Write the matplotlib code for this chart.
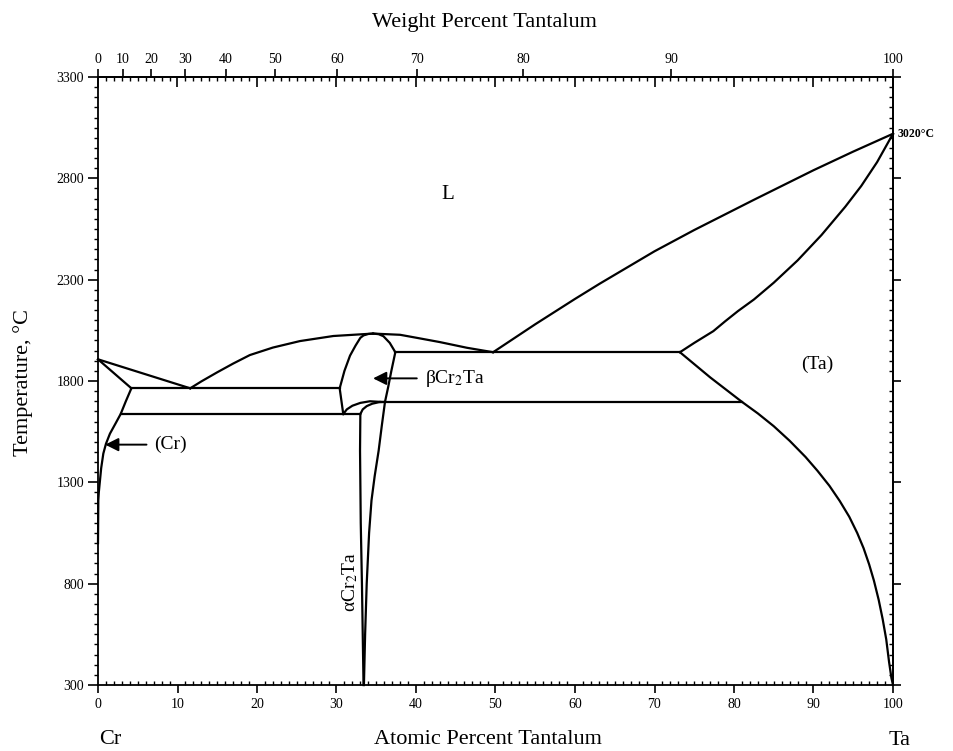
import matplotlib
matplotlib.use('Agg')
import matplotlib.pyplot as plt
import numpy as np
from matplotlib.ticker import MultipleLocator

plt.rcParams['font.family'] = ['Liberation Serif', 'DejaVu Serif']
plt.rcParams['mathtext.fontset'] = 'stix'

# atomic masses, used for the weight percent scale on top
M_CR = 52.00
M_TA = 180.95

# ---- phase boundaries (at.% Ta, deg C) ----
# (Cr) side
liq_cr_x = [0, 11.6]
liq_cr_t = [1907, 1764]
sol_cr_x = [0, 4.2]
sol_cr_t = [1907, 1764]
solv_cr_x = [4.2, 3.5, 2.85, 2.2, 1.5, 1.0, 0.67, 0.4, 0.25, 0.1, 0.04, 0.0]
solv_cr_t = [1764, 1700, 1637, 1590, 1540, 1490, 1442, 1370, 1310, 1250, 1212, 1000]

# Cr2Ta liquidus dome
dome_x = [11.6, 13, 15, 17, 19.1, 22, 25.4, 29.6, 34.6, 38, 40.1, 43, 46.4, 49.7]
dome_t = [1764, 1798, 1843, 1886, 1928, 1965, 1997, 2022, 2034, 2028, 2013, 1992, 1964, 1942]

# beta Cr2Ta field
beta_left_x = [30.85, 30.4, 31.0, 31.7, 32.4, 33.0, 33.4, 34.0, 34.6]
beta_left_t = [1637, 1764, 1850, 1925, 1975, 2013, 2025, 2032, 2034]
beta_right_x = [34.6, 35.3, 35.9, 36.7, 37.4]
beta_right_t = [2034, 2031, 2021, 1988, 1942]
beta_low_x = [30.85, 31.3, 32.0, 33.0, 34.2, 35.5]
beta_low_t = [1637, 1660, 1678, 1692, 1700, 1697]

# alpha Cr2Ta field
alpha_top_x = [33.0, 33.3, 33.8, 34.5, 35.4, 36.1]
alpha_top_t = [1637, 1660, 1676, 1688, 1696, 1697]
alpha_left_x = [33.0, 32.96, 33.05, 33.2, 33.3, 33.4]
alpha_left_t = [1637, 1456, 1100, 800, 550, 300]
cr2ta_right_x = [37.4, 36.9, 36.5, 36.1, 35.7, 35.3, 34.8, 34.4, 34.1, 33.8, 33.6, 33.45]
cr2ta_right_t = [1942, 1850, 1770, 1697, 1580, 1456, 1330, 1210, 1050, 800, 550, 300]

# (Ta) side
liq_ta_x = [49.7, 55, 60, 63.1, 70, 75, 82.5, 90, 95, 100]
liq_ta_t = [1942, 2080, 2205, 2280, 2440, 2545, 2694, 2840, 2932, 3020]
sol_ta_x = [73.2, 75, 77.4, 78.9, 80.5, 82.5, 85, 88, 91, 94, 96, 98, 100]
sol_ta_t = [1942, 1988, 2046, 2095, 2145, 2202, 2285, 2395, 2520, 2660, 2762, 2880, 3020]
solv_ta_x = [73.2, 77, 81, 83, 85, 87, 89, 90.5, 92, 93.3, 94.5, 95.5, 96.3, 97.0,
             97.6, 98.2, 98.7, 99.15, 99.5, 99.8, 100]
solv_ta_t = [1942, 1818, 1697, 1640, 1577, 1505, 1425, 1357, 1283, 1208, 1130, 1050,
             975, 895, 815, 720, 625, 525, 415, 335, 300]

# invariant lines: (x start, x end, T)
iso_lines = [(4.2, 30.4, 1764),
             (2.85, 33.0, 1637),
             (37.4, 73.2, 1942),
             (35.5, 81.0, 1697)]

wt_ticks = [0, 10, 20, 30, 40, 50, 60, 70, 80, 90, 100]
at_ticks = [0, 10, 20, 30, 40, 50, 60, 70, 80, 90, 100]
t_ticks = [300, 800, 1300, 1800, 2300, 2800, 3300]


def at_to_wt(a):
    a = np.asarray(a, dtype=float)
    with np.errstate(divide='ignore', invalid='ignore'):
        return 100.0 * a * M_TA / (a * M_TA + (100.0 - a) * M_CR)


def wt_to_at(w):
    w = np.asarray(w, dtype=float)
    with np.errstate(divide='ignore', invalid='ignore'):
        return 100.0 * (w / M_TA) / (w / M_TA + (100.0 - w) / M_CR)


fig = plt.figure(figsize=(9.54, 7.51), dpi=100)
ax = fig.add_axes([98 / 954, 66 / 751, 795 / 954, 608 / 751])

lw = 1.6
curves = [(liq_cr_x, liq_cr_t), (sol_cr_x, sol_cr_t), (solv_cr_x, solv_cr_t),
          (dome_x, dome_t), (beta_left_x, beta_left_t), (beta_right_x, beta_right_t),
          (beta_low_x, beta_low_t), (alpha_top_x, alpha_top_t),
          (alpha_left_x, alpha_left_t), (cr2ta_right_x, cr2ta_right_t),
          (liq_ta_x, liq_ta_t), (sol_ta_x, sol_ta_t), (solv_ta_x, solv_ta_t)]
for cx, ct in curves:
    ax.plot(cx, ct, color='k', lw=lw, solid_joinstyle='round', clip_on=False)
for x0, x1, t in iso_lines:
    ax.plot([x0, x1], [t, t], color='k', lw=lw)

ax.set_xlim(0, 100)
ax.set_ylim(300, 3300)
for s in ax.spines.values():
    s.set_linewidth(1.3)

ax.set_xticks(at_ticks)
ax.xaxis.set_minor_locator(MultipleLocator(1))
ax.set_yticks(t_ticks)
ax.yaxis.set_minor_locator(MultipleLocator(50))
ax.tick_params(axis='x', which='major', direction='out', length=6, width=1.2,
               labelsize=10, pad=3)
ax.tick_params(axis='x', which='minor', direction='in', length=3, width=1.0)
ax.tick_params(axis='y', which='major', direction='out', length=7, width=1.2,
               labelsize=10, pad=3)
ax.tick_params(axis='y', which='minor', direction='out', length=3, width=1.0)

# top: atomic percent ticks pointing in
top_at = ax.secondary_xaxis('top')
top_at.set_xticks(at_ticks)
top_at.xaxis.set_minor_locator(MultipleLocator(1))
top_at.tick_params(which='major', direction='in', length=7, width=1.2, labeltop=False)
top_at.tick_params(which='minor', direction='in', length=3, width=1.0)
top_at.spines['top'].set_linewidth(1.3)

# top: weight percent scale
top_wt = ax.secondary_xaxis('top', functions=(at_to_wt, wt_to_at))
top_wt.set_xticks(wt_ticks)
top_wt.xaxis.set_minor_locator(plt.NullLocator())
top_wt.tick_params(which='major', direction='out', length=6, width=1.2,
                   labelsize=10, pad=2)
top_wt.spines['top'].set_visible(False)

# right side ticks
right = ax.secondary_yaxis('right')
right.set_yticks(t_ticks)
right.yaxis.set_minor_locator(MultipleLocator(50))
right.tick_params(which='major', direction='out', length=6, width=1.2, labelright=False)
right.tick_params(which='minor', direction='in', length=3, width=1.0)
right.spines['right'].set_linewidth(1.3)

# phase labels
ax.text(44, 2720, 'L', fontsize=15, ha='center', va='center')
ax.text(90.5, 1880, '(Ta)', fontsize=14, ha='center', va='center')
ax.text(7.0, 1486, '(Cr)', fontsize=14, ha='left', va='center')
ax.annotate('', xy=(0.9, 1486), xytext=(6.1, 1486),
            arrowprops=dict(arrowstyle='-|>', color='k', lw=1.4,
                            mutation_scale=20, shrinkA=0, shrinkB=0))
ax.text(41.1, 1813, '\u03b2Cr$_2$Ta', fontsize=14, ha='left', va='center')
ax.annotate('', xy=(34.6, 1813), xytext=(40.1, 1813),
            arrowprops=dict(arrowstyle='-|>', color='k', lw=1.4,
                            mutation_scale=20, shrinkA=0, shrinkB=0))
ax.text(31.7, 810, '\u03b1Cr$_2$Ta', fontsize=14, ha='center', va='center',
        rotation=90)
ax.text(100.6, 3020, '3020\u00b0C', fontsize=8.5, fontweight='bold',
        ha='left', va='center', clip_on=False)

# axis titles
fig.text(484 / 954, 1 - 22 / 751, 'Weight Percent Tantalum', fontsize=16,
         ha='center', va='center')
fig.text(488 / 954, 7 / 751, 'Atomic Percent Tantalum', fontsize=16,
         ha='center', va='baseline')
fig.text(110 / 954, 7 / 751, 'Cr', fontsize=16, ha='center', va='baseline')
fig.text(900 / 954, 6 / 751, 'Ta', fontsize=16, ha='center', va='baseline')
fig.text(23 / 954, 1 - 383 / 751, 'Temperature, \u00b0C', fontsize=16,
         ha='center', va='center', rotation=90)

fig.savefig('out.png', dpi=100)
